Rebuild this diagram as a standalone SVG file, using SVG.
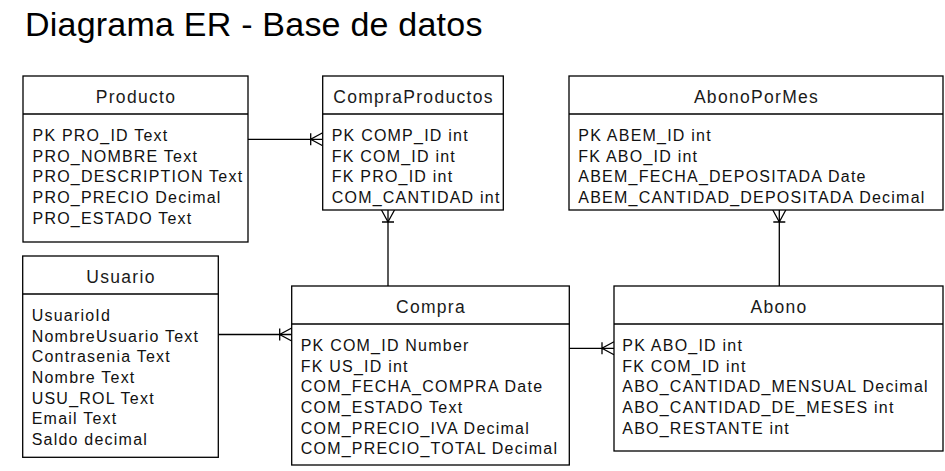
<svg xmlns="http://www.w3.org/2000/svg" width="945" height="471" viewBox="0 0 945 471">
<style>
.box{fill:#fff;stroke:#000;stroke-width:1.3}
.div{stroke:#000;stroke-width:1.3}
.hd{font-family:"Liberation Sans",Arial,sans-serif;font-size:17.5px;letter-spacing:1.3px;fill:#1a1a1a;text-anchor:middle}
.fd{font-family:"Liberation Sans",Arial,sans-serif;font-size:16px;letter-spacing:1.22px;fill:#111}
.title{font-family:"Liberation Sans",Arial,sans-serif;font-size:34px;letter-spacing:0.22px;fill:#000}
.conn{fill:none;stroke:#000;stroke-width:1.3;marker-end:url(#many)}
</style>
<defs>
<marker id="many" markerUnits="userSpaceOnUse" viewBox="-2 -8 16 16" refX="12" refY="0" markerWidth="16" markerHeight="16" orient="auto">
<path d="M12,-6.5 L0,0 L12,6.5 M0,-6 L0,6" fill="none" stroke="#000" stroke-width="1.3"/>
</marker>
<clipPath id="cpClip"><rect x="322.7" y="114" width="177.5" height="96"/></clipPath>
</defs>
<rect width="945" height="471" fill="#fff"/>
<text class="title" x="25" y="36">Diagrama ER - Base de datos</text>

<g id="connectors">
<path class="conn" d="M248,139.3 H322.7"/>
<path class="conn" d="M388,286 V210"/>
<path class="conn" d="M779.3,286 V210"/>
<path class="conn" d="M218.3,334.5 H291.7"/>
<path class="conn" d="M569.3,348.3 H614"/>
</g>

<g id="producto">
<rect class="box" x="23" y="76" width="225" height="166"/>
<line class="div" x1="23" y1="114" x2="248" y2="114"/>
<text class="hd" x="136" y="103">Producto</text>
<text class="fd" x="32.5" y="141">PK PRO_ID Text</text>
<text class="fd" x="32.5" y="161.7">PRO_NOMBRE Text</text>
<text class="fd" x="32.5" y="182.3">PRO_DESCRIPTION Text</text>
<text class="fd" x="32.5" y="203">PRO_PRECIO Decimal</text>
<text class="fd" x="32.5" y="223.7">PRO_ESTADO Text</text>
</g>

<g id="compraproductos">
<rect class="box" x="322.7" y="76" width="180.6" height="134"/>
<line class="div" x1="322.7" y1="114" x2="503.3" y2="114"/>
<text class="hd" x="413.5" y="103">CompraProductos</text>
<g clip-path="url(#cpClip)">
<text class="fd" x="331.7" y="141">PK COMP_ID int</text>
<text class="fd" x="331.7" y="161.7">FK COM_ID int</text>
<text class="fd" x="331.7" y="182.3">FK PRO_ID int</text>
<text class="fd" x="331.7" y="203">COM_CANTIDAD int</text>
</g>
</g>

<g id="abonopormes">
<rect class="box" x="569" y="76" width="374" height="134"/>
<line class="div" x1="569" y1="114" x2="943" y2="114"/>
<text class="hd" x="756.5" y="103">AbonoPorMes</text>
<text class="fd" x="578.3" y="141">PK ABEM_ID int</text>
<text class="fd" x="578.3" y="161.7">FK ABO_ID int</text>
<text class="fd" x="578.3" y="182.3">ABEM_FECHA_DEPOSITADA Date</text>
<text class="fd" x="578.3" y="203">ABEM_CANTIDAD_DEPOSITADA Decimal</text>
</g>

<g id="usuario">
<rect class="box" x="22.7" y="256" width="195.6" height="201.3"/>
<line class="div" x1="22.7" y1="294" x2="218.3" y2="294"/>
<text class="hd" x="121" y="283.3">Usuario</text>
<text class="fd" x="31.7" y="321">UsuarioId</text>
<text class="fd" x="31.7" y="341.7">NombreUsuario Text</text>
<text class="fd" x="31.7" y="362.3">Contrasenia Text</text>
<text class="fd" x="31.7" y="383">Nombre Text</text>
<text class="fd" x="31.7" y="403.7">USU_ROL Text</text>
<text class="fd" x="31.7" y="424.3">Email Text</text>
<text class="fd" x="31.7" y="445">Saldo decimal</text>
</g>

<g id="compra">
<rect class="box" x="291.7" y="286" width="277.6" height="179"/>
<line class="div" x1="291.7" y1="324" x2="569.3" y2="324"/>
<text class="hd" x="431" y="313.3">Compra</text>
<text class="fd" x="300.7" y="351">PK COM_ID Number</text>
<text class="fd" x="300.7" y="371.7">FK US_ID int</text>
<text class="fd" x="300.7" y="392.3">COM_FECHA_COMPRA Date</text>
<text class="fd" x="300.7" y="413">COM_ESTADO Text</text>
<text class="fd" x="300.7" y="433.7">COM_PRECIO_IVA Decimal</text>
<text class="fd" x="300.7" y="454.3">COM_PRECIO_TOTAL Decimal</text>
</g>

<g id="abono">
<rect class="box" x="614" y="286" width="329" height="165"/>
<line class="div" x1="614" y1="324" x2="943" y2="324"/>
<text class="hd" x="779" y="313.3">Abono</text>
<text class="fd" x="622.3" y="351">PK ABO_ID int</text>
<text class="fd" x="622.3" y="371.7">FK COM_ID int</text>
<text class="fd" x="622.3" y="392.3">ABO_CANTIDAD_MENSUAL Decimal</text>
<text class="fd" x="622.3" y="413">ABO_CANTIDAD_DE_MESES int</text>
<text class="fd" x="622.3" y="433.7">ABO_RESTANTE int</text>
</g>
</svg>
